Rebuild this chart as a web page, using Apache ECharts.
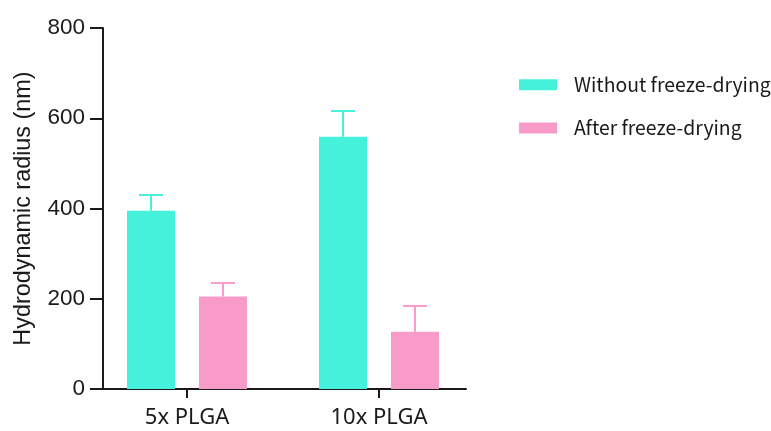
<!DOCTYPE html>
<html>
<head>
<meta charset="utf-8">
<style>
  html, body { margin: 0; padding: 0; background: #ffffff; }
  #chart { width: 771px; height: 431px; }
</style>
<script src="https://cdn.jsdelivr.net/npm/echarts@6/dist/echarts.min.js"></script>
</head>
<body>
<div id="chart"></div>
<script>
// Hydrodynamic radius of PLGA particles before and after freeze-drying
const categories = ['5x PLGA', '10x PLGA'];
const seriesNames = ['Without freeze-drying', 'After freeze-drying'];
const meanWithout = [395, 559];
const meanAfter = [205, 127];
const upperWithout = [430, 616];   // mean + SD
const upperAfter = [235, 184];
const yTicks = [0, 200, 400, 600, 800];

const colors = ['#46F1DC', '#F99BC9'];
const BAR_W = 48;
const BAR_GAP = 24;

const chart = echarts.init(document.getElementById('chart'));

function errorSeries(idx, means, uppers) {
  const shift = (idx === 0 ? -1 : 1) * (BAR_W + BAR_GAP) / 2;
  return {
    type: 'custom',
    name: seriesNames[idx] + ' SD',
    xAxisIndex: 0,
    yAxisIndex: 0,
    z: 3,
    silent: true,
    data: means.map((m, i) => [i, m, uppers[i]]),
    renderItem: function (params, api) {
      const base = api.coord([api.value(0), api.value(1)]);
      const top = api.coord([api.value(0), api.value(2)]);
      const x = base[0] + shift;
      const capHalf = BAR_W / 4;
      const style = { stroke: colors[idx], lineWidth: 2 };
      return {
        type: 'group',
        children: [
          { type: 'line', shape: { x1: x, y1: base[1], x2: x, y2: top[1] }, style: style },
          { type: 'line', shape: { x1: x - capHalf, y1: top[1], x2: x + capHalf, y2: top[1] }, style: style }
        ]
      };
    }
  };
}

const axisColor = '#1a1a1a';
const textColor = '#1a1a1a';
const legendFont = 'Noto Sans CJK JP';
const catFont = 'Noto Sans';
const numFont = 'Liberation Sans';

chart.setOption({
  animation: false,
  color: colors,
  grid: [
    { left: 91, width: 384, top: 28, bottom: 42 },
    { left: 103, width: 363, top: 28, bottom: 42 }
  ],
  legend: {
    orient: 'vertical',
    left: 514,
    top: 70,
    itemWidth: 38,
    itemHeight: 11,
    itemGap: 24,
    icon: 'rect',
    data: seriesNames,
    textStyle: { fontFamily: legendFont, fontSize: 19.4, color: textColor, padding: [0, 0, 0, 12] }
  },
  xAxis: [
    {
      type: 'category',
      gridIndex: 0,
      data: categories,
      axisLine: { show: false },
      axisTick: { show: true, alignWithLabel: true, length: 9, lineStyle: { color: axisColor, width: 2 } },
      axisLabel: { margin: 18, fontFamily: catFont, fontSize: 22, color: textColor },
      splitLine: { show: false }
    },
    {
      type: 'value',
      gridIndex: 1,
      min: 0,
      max: 1,
      axisLine: { show: true, lineStyle: { color: axisColor, width: 2 } },
      axisTick: { show: false },
      axisLabel: { show: false },
      splitLine: { show: false }
    }
  ],
  yAxis: [
    {
      type: 'value',
      gridIndex: 0,
      min: yTicks[0],
      max: yTicks[yTicks.length - 1],
      interval: yTicks[1] - yTicks[0],
      show: false,
      splitLine: { show: false }
    },
    {
      type: 'value',
      gridIndex: 1,
      min: yTicks[0],
      max: yTicks[yTicks.length - 1],
      interval: yTicks[1] - yTicks[0],
      name: 'Hydrodynamic radius (nm)',
      nameLocation: 'middle',
      nameGap: 68,
      nameTextStyle: { fontFamily: numFont, fontSize: 23.4, color: textColor },
      axisLine: { show: true, lineStyle: { color: axisColor, width: 2 } },
      axisTick: { show: true, length: 13, lineStyle: { color: axisColor, width: 2 } },
      axisLabel: { margin: 18, fontFamily: numFont, fontSize: 22.5, color: textColor },
      splitLine: { show: false }
    }
  ],
  series: [
    {
      type: 'bar',
      name: seriesNames[0],
      xAxisIndex: 0,
      yAxisIndex: 0,
      barWidth: BAR_W,
      barGap: (BAR_GAP / BAR_W * 100) + '%',
      data: meanWithout,
      itemStyle: { color: colors[0] }
    },
    {
      type: 'bar',
      name: seriesNames[1],
      xAxisIndex: 0,
      yAxisIndex: 0,
      barWidth: BAR_W,
      barGap: (BAR_GAP / BAR_W * 100) + '%',
      data: meanAfter,
      itemStyle: { color: colors[1] }
    },
    errorSeries(0, meanWithout, upperWithout),
    errorSeries(1, meanAfter, upperAfter)
  ]
});
</script>
</body>
</html>
